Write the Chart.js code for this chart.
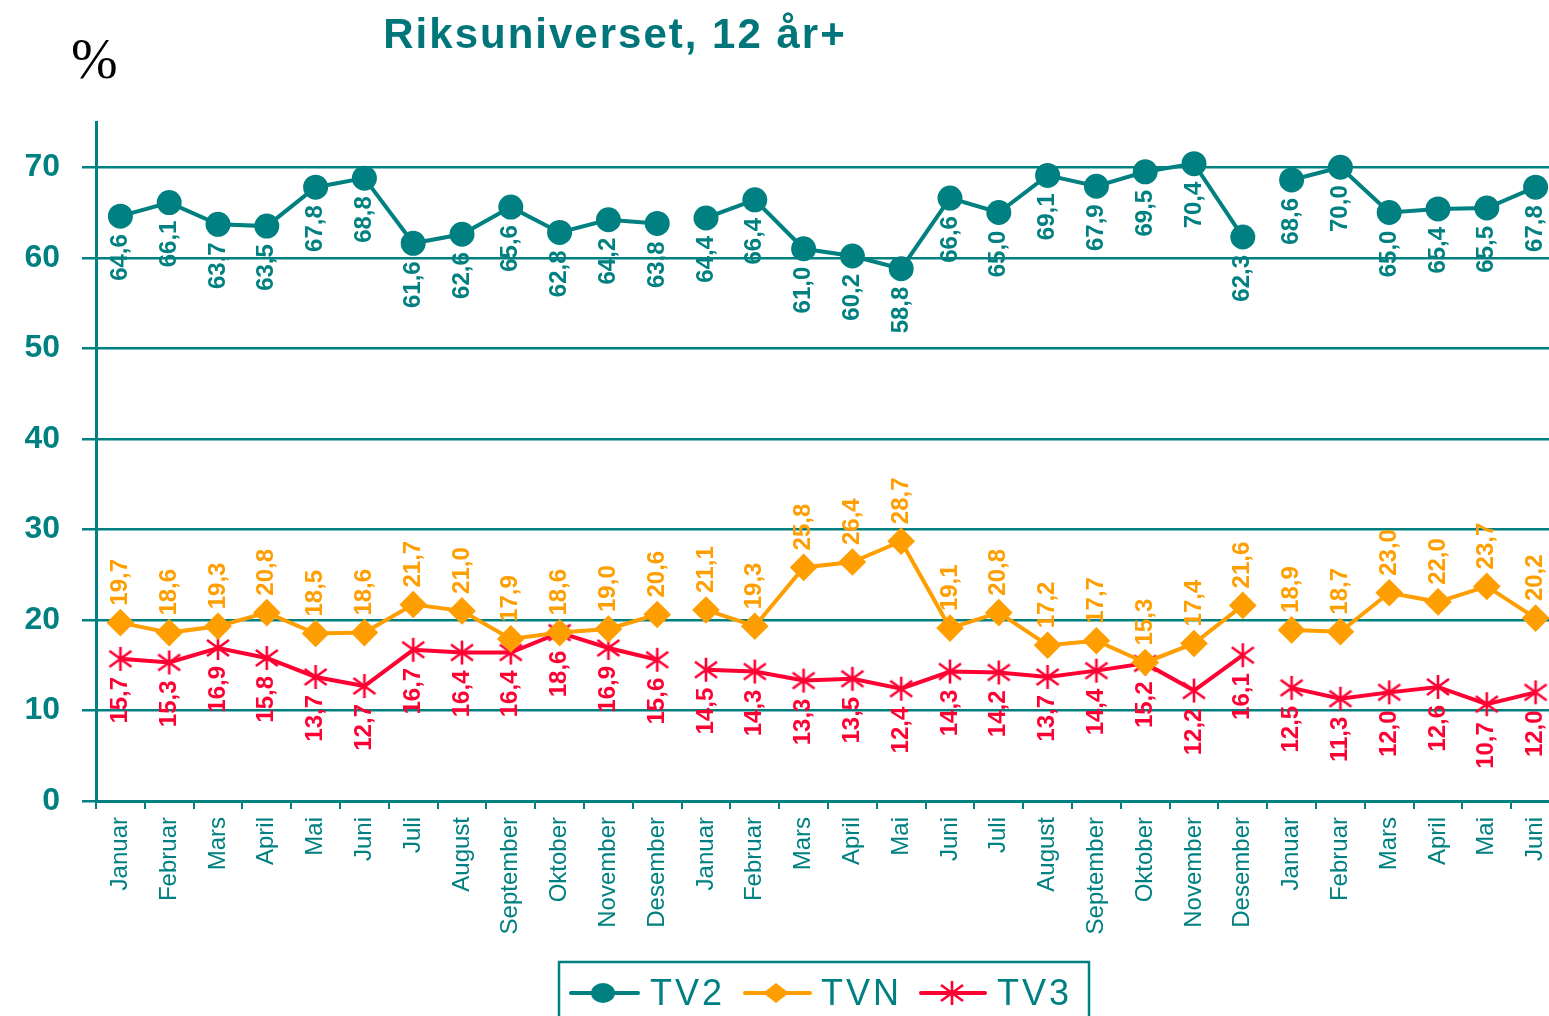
<!DOCTYPE html>
<html>
<head>
<meta charset="utf-8">
<title>Riksuniverset, 12 år+</title>
<script src="https://cdn.jsdelivr.net/npm/chart.js@4.4.1/dist/chart.umd.min.js"></script>
<style>
  html, body { margin: 0; padding: 0; overflow: hidden; background: #fff; }
  #wrap { position: relative; width: 1560px; height: 1016px; }
  #tittel {
    position: absolute; left: 0; top: 13px; width: 1230px; text-align: center;
    font: bold 42px/42px "Liberation Sans", Arial, sans-serif; letter-spacing: 2px; color: #00767a;
  }
  #prosent {
    position: absolute; left: 71px; top: 31px;
    font: 56px/56px "Liberation Serif", "Times New Roman", serif; color: #000;
  }
  canvas { position: absolute; left: 0; top: 0; }
</style>
</head>
<body>
<div id="wrap">
  <canvas id="lineChart" width="1560" height="1016"></canvas>
  <div id="tittel">Riksuniverset, 12 år+</div>
  <div id="prosent">%</div>
</div>
<script>
// months on the x axis (two full years + first half of the third)
var months = ["Januar","Februar","Mars","April","Mai","Juni","Juli","August","September","Oktober","November","Desember"];
var _labels = months.concat(months, months.slice(0, 6));

// values
var tv2 = [64.6, 66.1, 63.7, 63.5, 67.8, 68.8, 61.6, 62.6, 65.6, 62.8, 64.2, 63.8,
           64.4, 66.4, 61.0, 60.2, 58.8, 66.6, 65.0, 69.1, 67.9, 69.5, 70.4, 62.3,
           68.6, 70.0, 65.0, 65.4, 65.5, 67.8];
var tvn = [19.7, 18.6, 19.3, 20.8, 18.5, 18.6, 21.7, 21.0, 17.9, 18.6, 19.0, 20.6,
           21.1, 19.3, 25.8, 26.4, 28.7, 19.1, 20.8, 17.2, 17.7, 15.3, 17.4, 21.6,
           18.9, 18.7, 23.0, 22.0, 23.7, 20.2];
var tv3 = [15.7, 15.3, 16.9, 15.8, 13.7, 12.7, 16.7, 16.4, 16.4, 18.6, 16.9, 15.6,
           14.5, 14.3, 13.3, 13.5, 12.4, 14.3, 14.2, 13.7, 14.4, 15.2, 12.2, 16.1,
           12.5, 11.3, 12.0, 12.6, 10.7, 12.0];
var yTicks = [0, 10, 20, 30, 40, 50, 60, 70];
// line is broken after these indexes (Desember -> Januar)
var breakAfter = [11, 23];

var TEAL = "#008080";
var ORANGE = "#ff9e00";
var RED = "#ff0033";

// excel style star marker
function makeStar(color) {
  var c = document.createElement("canvas");
  c.width = 28; c.height = 28;
  var g = c.getContext("2d");
  g.strokeStyle = color;
  g.lineWidth = 2.6;
  g.beginPath();
  g.moveTo(14, 2); g.lineTo(14, 26);
  g.moveTo(3, 6); g.lineTo(25, 22);
  g.moveTo(3, 22); g.lineTo(25, 6);
  g.stroke();
  return c;
}
var starImg = makeStar(RED);

function gap(ctx) {
  return breakAfter.indexOf(ctx.p0DataIndex) >= 0 ? "rgba(0,0,0,0)" : undefined;
}

// rotated value labels
var valueLabels = {
  id: "valueLabels",
  afterDatasetsDraw: function(chart) {
    var ctx = chart.ctx;
    chart.data.datasets.forEach(function(ds, di) {
      var meta = chart.getDatasetMeta(di);
      ctx.save();
      ctx.font = 'bold 24px "Liberation Sans", Arial, sans-serif';
      ctx.fillStyle = ds.borderColor;
      ctx.textBaseline = "middle";
      meta.data.forEach(function(pt, i) {
        var txt = ds.data[i].toFixed(1).replace(".", ",");
        var above = ds.labelSide === "above";
        ctx.save();
        ctx.translate(pt.x, pt.y + (above ? -17 : 18));
        ctx.rotate(-Math.PI / 2);
        ctx.textAlign = above ? "left" : "right";
        ctx.fillText(txt, 0, 0);
        ctx.restore();
      });
      ctx.restore();
    });
  }
};

// boxed legend at the bottom
var legendPos = [
  {x1: 571, x2: 638, mx: 603, tx: 650},
  {x1: 745, x2: 810, mx: 776, tx: 821},
  {x1: 921, x2: 985, mx: 952, tx: 997}
];
var boxLegend = {
  id: "boxLegend",
  afterDraw: function(chart) {
    var ctx = chart.ctx;
    var y = 993;
    ctx.save();
    ctx.strokeStyle = TEAL;
    ctx.lineWidth = 2.5;
    ctx.strokeRect(559, 962, 530, 90);
    chart.data.datasets.forEach(function(ds, i) {
      var p = legendPos[i];
      ctx.strokeStyle = ds.borderColor;
      ctx.fillStyle = ds.borderColor;
      ctx.lineWidth = 4;
      ctx.lineCap = "round";
      ctx.beginPath();
      ctx.moveTo(p.x1, y); ctx.lineTo(p.x2, y);
      ctx.stroke();
      if (ds.pointStyle === "circle") {
        ctx.beginPath();
        ctx.ellipse(p.mx, y, 12, 10, 0, 0, Math.PI * 2);
        ctx.fill();
      } else if (ds.pointStyle === "rectRot") {
        ctx.beginPath();
        ctx.moveTo(p.mx - 13, y); ctx.lineTo(p.mx, y - 10);
        ctx.lineTo(p.mx + 13, y); ctx.lineTo(p.mx, y + 10);
        ctx.closePath();
        ctx.fill();
      } else {
        ctx.drawImage(starImg, p.mx - 14, y - 14);
      }
      ctx.fillStyle = TEAL;
      ctx.font = '36px "Liberation Sans", Arial, sans-serif';
      ctx.letterSpacing = "3px";
      ctx.textAlign = "left";
      ctx.textBaseline = "alphabetic";
      ctx.fillText(ds.label, p.tx, 1005);
      ctx.letterSpacing = "0px";
    });
    ctx.restore();
  }
};

var config = {
  type: "line",
  data: {
    labels: _labels,
    datasets: [{
      label: "TV2",
      data: tv2,
      borderColor: TEAL,
      backgroundColor: TEAL,
      borderWidth: 4,
      pointStyle: "circle",
      pointRadius: 10.5,
      pointHoverRadius: 10.5,
      labelSide: "below",
      segment: {borderColor: gap}
    }, {
      label: "TVN",
      data: tvn,
      borderColor: ORANGE,
      backgroundColor: ORANGE,
      borderWidth: 4,
      pointStyle: "rectRot",
      pointRadius: 11,
      pointHoverRadius: 11,
      labelSide: "above",
      segment: {borderColor: gap}
    }, {
      label: "TV3",
      data: tv3,
      borderColor: RED,
      backgroundColor: RED,
      borderWidth: 4,
      pointStyle: starImg,
      pointRadius: 12,
      labelSide: "below",
      segment: {borderColor: gap}
    }]
  },
  options: {
    responsive: false,
    animation: false,
    events: [],
    layout: {autoPadding: false, padding: {top: 122, left: 0, right: 0, bottom: 0}},
    plugins: {
      legend: {display: false},
      title: {display: false},
      tooltip: {enabled: false}
    },
    scales: {
      x: {
        offset: true,
        afterFit: function(s) {
          s.height = 215;
          s.paddingLeft = 0;
          s.paddingRight = 0;
        },
        border: {color: TEAL, width: 3},
        grid: {offset: true, drawOnChartArea: false, drawTicks: true, tickLength: 8, color: TEAL, lineWidth: 2},
        ticks: {
          color: TEAL,
          font: {family: '"Liberation Sans", Arial, sans-serif', size: 24},
          minRotation: 90, maxRotation: 90, autoSkip: false, padding: 8
        }
      },
      y: {
        min: 0,
        max: 75,
        afterFit: function(s) { s.width = 96; },
        afterBuildTicks: function(s) {
          s.ticks = yTicks.map(function(v) { return {value: v}; });
        },
        border: {color: TEAL, width: 3},
        grid: {color: TEAL, lineWidth: 2.5, tickLength: 14},
        ticks: {
          color: TEAL,
          padding: 22,
          font: {family: '"Liberation Sans", Arial, sans-serif', size: 32, weight: "bold"}
        }
      }
    }
  },
  plugins: [valueLabels, boxLegend]
};

var ctx = document.getElementById("lineChart");
var charts = new Chart(ctx, config);
</script>
</body>
</html>
